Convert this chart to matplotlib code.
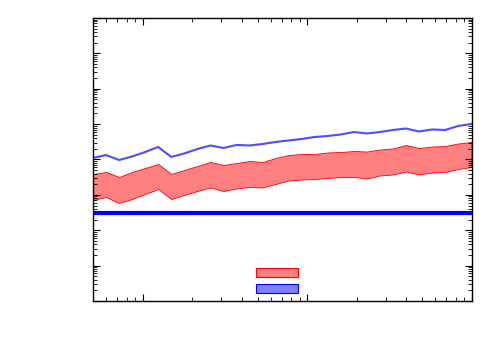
import matplotlib
matplotlib.use('Agg')
import matplotlib.pyplot as plt
from matplotlib.patches import Patch
import numpy as np

# x sample points (log spaced)
x = [0.5, 0.6, 0.72, 0.864, 1.037, 1.244, 1.493, 1.792, 2.150, 2.580,
     3.096, 3.715, 4.458, 5.350, 6.420, 7.704, 9.245, 11.09, 13.31, 15.97,
     19.17, 23.00, 27.60, 33.12, 39.75, 47.70, 57.24, 68.68, 82.42, 98.90]

upper = [11000, 13400, 9680, 12200, 16300, 22600, 11800, 14800, 19800, 24900,
         21100, 25700, 24900, 27400, 31300, 34500, 38000, 43300, 46200, 50900,
         59900, 54300, 59900, 68200, 75200, 61900, 70500, 68200, 88500, 101000]

band_hi = [3890, 4430, 3200, 4430, 5750, 7460, 3890, 5050, 6550, 8500,
           6990, 7960, 9070, 8500, 11000, 13400, 14300, 14300, 15800, 16300,
           17400, 16800, 19200, 20500, 25700, 21100, 23300, 24100, 28300, 31300]

band_lo = [716, 871, 589, 764, 1058, 1466, 764, 992, 1287, 1616,
           1287, 1514, 1670, 1616, 2030, 2549, 2720, 2810, 3000, 3200,
           3200, 2903, 3529, 3767, 4579, 3767, 4291, 4430, 5388, 6138]

level = 300

fig = plt.figure(figsize=(5, 3.5), dpi=100)
ax = fig.add_axes([0.186, 0.14, 0.758, 0.8086])

ax.fill_between(x, band_lo, band_hi, facecolor=(1, 0.5, 0.5), edgecolor='red', linewidth=0.6)
ax.plot(x, upper, color=(0.3, 0.3, 1.0), linewidth=1.5)
ax.axhline(level, color='blue', linewidth=3)

ax.set_xscale('log')
ax.set_yscale('log')
ax.set_xlim(0.5, 100)
ax.set_ylim(1, 1e8)

ax.tick_params(which='both', direction='in', top=True, right=True,
               labelbottom=False, labelleft=False)
ax.tick_params(which='major', length=5, width=0.8)
ax.tick_params(which='minor', length=3, width=0.6)
for s in ax.spines.values():
    s.set_color('black')
    s.set_linewidth(1)

handles = [Patch(facecolor=(1, 0.5, 0.5), edgecolor='red', linewidth=0.8),
           Patch(facecolor=(0.5, 0.5, 1.0), edgecolor='blue', linewidth=0.8)]
ax.legend(handles, ['', ''], loc='center', bbox_to_anchor=(0.486, 0.068),
          frameon=False, handlelength=3.0, handleheight=0.6,
          handletextpad=0, labelspacing=0.15)

fig.savefig('out.png', dpi=100)
